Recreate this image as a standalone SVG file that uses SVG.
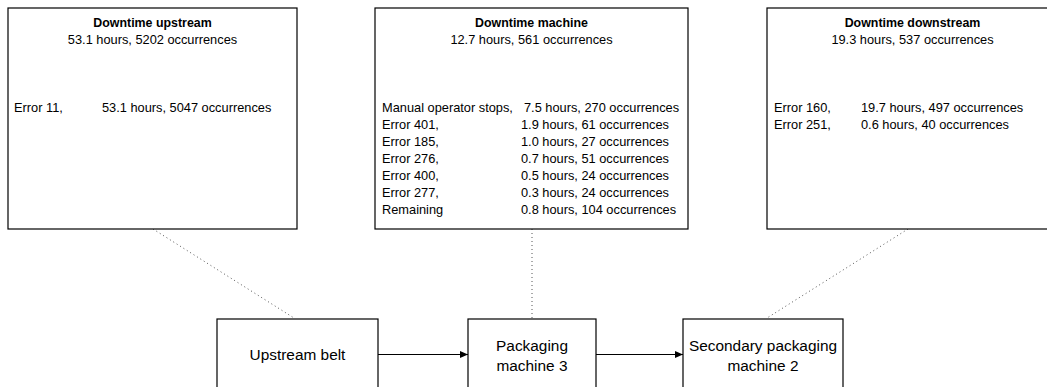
<svg xmlns="http://www.w3.org/2000/svg" width="1047" height="387" viewBox="0 0 1047 387">
  <style>
    .box { fill: #ffffff; stroke: #000000; stroke-width: 1.2; }
    .t { font-family: "Liberation Sans", Arial, sans-serif; font-size: 12.8px; fill: #000000; }
    .c { text-anchor: middle; }
    .b { font-weight: bold; font-size: 12.4px; }
    .lbl { font-size: 15.4px; }
    .dot { stroke: #555555; stroke-width: 1; stroke-dasharray: 1 3; fill: none; }
    .flow { stroke: #000000; stroke-width: 1.2; fill: none; marker-end: url(#arrow); }
  </style>
  <defs>
    <marker id="arrow" viewBox="0 0 8 8" refX="8" refY="4" markerWidth="8" markerHeight="8" markerUnits="userSpaceOnUse" orient="auto">
      <path d="M0,0.5 L8,4 L0,7.5 Z" fill="#000000"/>
    </marker>
  </defs>
  <rect width="1047" height="387" fill="#ffffff"/>

  <!-- connectors: dotted links from downtime boxes to stations, flow arrows between stations -->
  <g id="connectors">
    <line class="dot" x1="153" y1="229" x2="294" y2="318"/>
    <line class="dot" x1="532" y1="229" x2="532" y2="318"/>
    <line class="dot" x1="908" y1="229" x2="767" y2="318"/>
    <line class="flow" x1="378" y1="354.5" x2="468" y2="354.5"/>
    <line class="flow" x1="596" y1="354.5" x2="683" y2="354.5"/>
  </g>

  <g id="downtime-upstream">
    <rect class="box" x="8" y="8" width="289" height="221"/>
    <text class="t c b" x="152.5" y="27">Downtime upstream</text>
    <text class="t c" x="152.5" y="44">53.1 hours, 5202 occurrences</text>
    <text class="t" x="14" y="112">Error 11,</text>
    <text class="t" x="102" y="112">53.1 hours, 5047 occurrences</text>
  </g>

  <g id="downtime-machine">
    <rect class="box" x="375" y="8" width="313" height="221"/>
    <text class="t c b" x="531.5" y="27">Downtime machine</text>
    <text class="t c" x="531.5" y="44">12.7 hours, 561 occurrences</text>
    <text class="t" x="382" y="112">Manual operator stops,</text>
    <text class="t" x="524" y="112">7.5 hours, 270 occurrences</text>
    <text class="t" x="382" y="129">Error 401,</text>
    <text class="t" x="521" y="129">1.9 hours, 61 occurrences</text>
    <text class="t" x="382" y="146">Error 185,</text>
    <text class="t" x="521" y="146">1.0 hours, 27 occurrences</text>
    <text class="t" x="382" y="163">Error 276,</text>
    <text class="t" x="521" y="163">0.7 hours, 51 occurrences</text>
    <text class="t" x="382" y="180">Error 400,</text>
    <text class="t" x="521" y="180">0.5 hours, 24 occurrences</text>
    <text class="t" x="382" y="197">Error 277,</text>
    <text class="t" x="521" y="197">0.3 hours, 24 occurrences</text>
    <text class="t" x="382" y="214">Remaining</text>
    <text class="t" x="521" y="214">0.8 hours, 104 occurrences</text>
  </g>

  <g id="downtime-downstream">
    <rect class="box" x="767" y="8" width="291" height="221"/>
    <text class="t c b" x="912.5" y="27">Downtime downstream</text>
    <text class="t c" x="912.5" y="44">19.3 hours, 537 occurrences</text>
    <text class="t" x="774" y="112">Error 160,</text>
    <text class="t" x="861" y="112">19.7 hours, 497 occurrences</text>
    <text class="t" x="774" y="129">Error 251,</text>
    <text class="t" x="861" y="129">0.6 hours, 40 occurrences</text>
  </g>

  <g id="upstream-belt">
    <rect class="box" x="217" y="319" width="161" height="80"/>
    <text class="t c lbl" x="297.5" y="360">Upstream belt</text>
  </g>

  <g id="packaging-machine-3">
    <rect class="box" x="468" y="319" width="128" height="80"/>
    <text class="t c lbl" x="532" y="351">Packaging</text>
    <text class="t c lbl" x="532" y="371">machine 3</text>
  </g>

  <g id="secondary-packaging-machine-2">
    <rect class="box" x="683" y="319" width="160" height="80"/>
    <text class="t c lbl" x="763" y="351">Secondary packaging</text>
    <text class="t c lbl" x="763" y="371">machine 2</text>
  </g>
</svg>
